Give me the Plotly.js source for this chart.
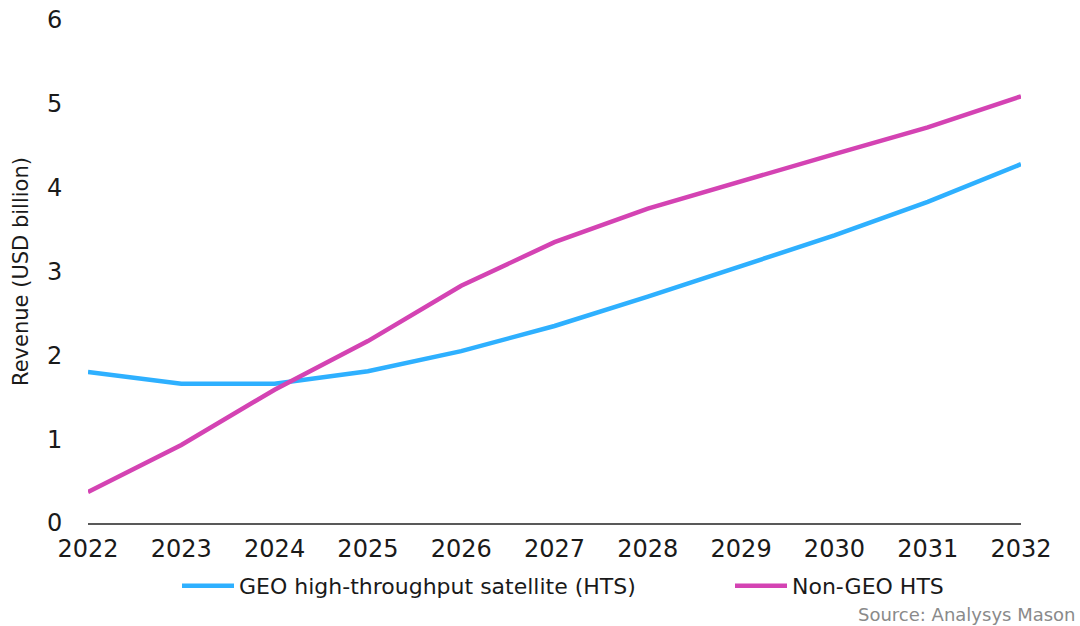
<!DOCTYPE html>
<html>
<head>
<meta charset="utf-8">
<script src="https://cdn.plot.ly/plotly-3.0.1.min.js"></script>
<style>html,body{margin:0;padding:0;background:#fff;}#chart{width:1080px;height:626px;}</style>
</head>
<body>
<div id="chart"></div>
<script>
const years = [2022, 2023, 2024, 2025, 2026, 2027, 2028, 2029, 2030, 2031, 2032];
const geoHTS = [1.80, 1.66, 1.66, 1.81, 2.05, 2.35, 2.70, 3.06, 3.43, 3.83, 4.28];
const nonGeoHTS = [0.37, 0.93, 1.59, 2.17, 2.83, 3.35, 3.75, 4.08, 4.40, 4.72, 5.09];
const seriesNames = ['GEO high-throughput satellite (HTS)', 'Non-GEO HTS'];
const yTicks = [0, 1, 2, 3, 4, 5, 6];

const FONT = 'DejaVu Sans, Liberation Sans, sans-serif';

const traces = [
  {x: years, y: geoHTS, name: seriesNames[0], type: 'scatter', mode: 'lines', legend: 'legend',
   line: {color: '#2EB0FF', width: 4.5}},
  {x: years, y: nonGeoHTS, name: seriesNames[1], type: 'scatter', mode: 'lines', legend: 'legend2',
   line: {color: '#D443B3', width: 4.5}}
];

const legendBase = {orientation: 'h', yanchor: 'middle', y: -0.125, xanchor: 'left',
  font: {size: 22, color: '#1a1a1a'}, itemwidth: 52, bgcolor: 'rgba(0,0,0,0)'};

const layout = {
  width: 1080, height: 626,
  paper_bgcolor: '#fff', plot_bgcolor: '#fff',
  margin: {l: 88, r: 59, t: 20, b: 103},
  font: {family: FONT, color: '#1a1a1a', size: 20},
  showlegend: true,
  legend: Object.assign({}, legendBase, {x: (177 - 88) / 933}),
  legend2: Object.assign({}, legendBase, {x: (730 - 88) / 933}),
  xaxis: {
    range: [2022, 2032], tickvals: years, ticktext: years.map(String),
    showgrid: false, zeroline: false, showline: true, linecolor: '#595959', linewidth: 1.5,
    ticks: 'outside', ticklen: 4, tickcolor: 'rgba(0,0,0,0)',
    tickfont: {size: 24, color: '#1a1a1a'}, fixedrange: true
  },
  yaxis: {
    range: [0, 6], tickvals: yTicks, showgrid: false, zeroline: false, showline: false,
    ticks: 'outside', ticklen: 20, tickcolor: 'rgba(0,0,0,0)',
    tickfont: {size: 24, color: '#1a1a1a'},
    title: {text: 'Revenue (USD billion)', font: {size: 21, color: '#1a1a1a'}, standoff: 12}
  },
  annotations: [{
    text: 'Source: Analysys Mason', xref: 'paper', yref: 'paper',
    x: 1.0 + 57/933, y: -0.181, xanchor: 'right', yanchor: 'middle', showarrow: false,
    font: {size: 18, color: '#8a8a8a'}
  }]
};

Plotly.newPlot('chart', traces, layout, {displayModeBar: false, staticPlot: true});
</script>
</body>
</html>
